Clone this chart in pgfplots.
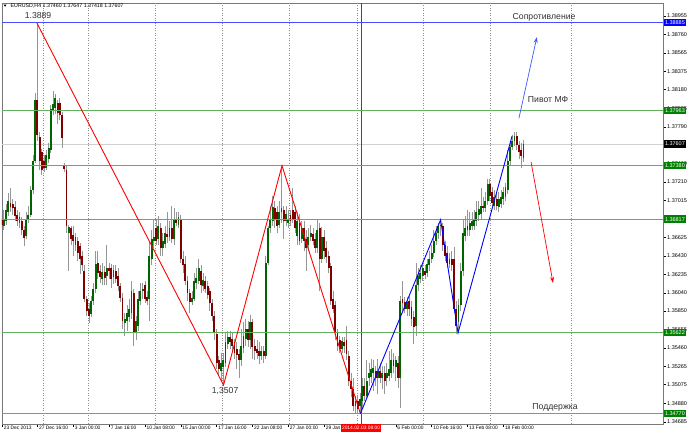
\documentclass[border=0pt]{standalone}
\usepackage{fontspec}
\setmainfont{Liberation Sans}
\usepackage{pgfplots}
\pgfplotsset{compat=1.18}
\usepackage{pgfplotstable}
\usetikzlibrary{arrows.meta}

\definecolor{upbody}{RGB}{0,100,0}
\definecolor{dnbody}{RGB}{128,0,0}
\definecolor{wick}{RGB}{150,150,150}
\definecolor{lvl}{RGB}{96,176,96}
\definecolor{lvlbox}{RGB}{0,128,0}
\definecolor{framec}{RGB}{120,120,120}
\definecolor{gridc}{RGB}{140,140,140}
\definecolor{txt}{RGB}{50,50,50}
\definecolor{lineblue}{RGB}{0,0,255}
\definecolor{arrowblue}{RGB}{60,90,255}

% EURUSD H4 candles: bar index, open, high, low, close
\pgfplotstableread{
i o h l c
1 1.3675 1.3691 1.3670 1.3682
2 1.3680 1.3698 1.3676 1.3691
3 1.3689 1.3709 1.3685 1.3701
8 1.3678 1.3689 1.3672 1.3684
11 1.3664 1.3689 1.3661 1.3682
12 1.3682 1.3696 1.3678 1.3686
13 1.3686 1.3717 1.3684 1.3712
14 1.3712 1.3749 1.3708 1.3743
15 1.3743 1.3814 1.3741 1.3807
20 1.3736 1.3754 1.3733 1.3749
21 1.3745 1.3762 1.3741 1.3757
22 1.3754 1.3802 1.3751 1.3798
23 1.3796 1.3817 1.3791 1.3803
24 1.3799 1.3813 1.3792 1.3809
30 1.3667 1.3676 1.3627 1.3673
33 1.3654 1.3667 1.3648 1.3663
40 1.3582 1.3601 1.3579 1.3596
41 1.3596 1.3615 1.3591 1.3608
42 1.3608 1.3648 1.3604 1.3634
45 1.3619 1.3636 1.3612 1.3626
47 1.3622 1.3654 1.3612 1.3630
50 1.3621 1.3633 1.3613 1.3628
55 1.3572 1.3583 1.3559 1.3577
56 1.3575 1.3591 1.3564 1.3583
57 1.3579 1.3598 1.3573 1.3587
58 1.3583 1.3617 1.3577 1.3606
60 1.3562 1.3580 1.3554 1.3575
61 1.3569 1.3606 1.3564 1.3598
62 1.3596 1.3614 1.3591 1.3606
63 1.3606 1.3615 1.3598 1.3608
66 1.3598 1.3659 1.3575 1.3643
67 1.3640 1.3670 1.3633 1.3661
68 1.3659 1.3682 1.3651 1.3663
70 1.3661 1.3685 1.3654 1.3675
72 1.3651 1.3667 1.3643 1.3659
73 1.3656 1.3674 1.3651 1.3667
75 1.3663 1.3680 1.3659 1.3672
77 1.3661 1.3693 1.3654 1.3682
79 1.3676 1.3689 1.3672 1.3684
85 1.3594 1.3606 1.3591 1.3599
86 1.3598 1.3625 1.3596 1.3617
87 1.3615 1.3630 1.3608 1.3620
88 1.3617 1.3640 1.3613 1.3630
90 1.3611 1.3625 1.3606 1.3618
98 1.3522 1.3541 1.3511 1.3530
99 1.3526 1.3541 1.3507 1.3533
100 1.3530 1.3562 1.3526 1.3552
101 1.3550 1.3564 1.3545 1.3558
107 1.3533 1.3566 1.3527 1.3548
108 1.3546 1.3573 1.3541 1.3559
109 1.3556 1.3577 1.3548 1.3566
111 1.3554 1.3581 1.3545 1.3573
116 1.3538 1.3548 1.3533 1.3543
118 1.3538 1.3643 1.3535 1.3636
119 1.3636 1.3675 1.3633 1.3672
120 1.3672 1.3696 1.3667 1.3682
121 1.3680 1.3706 1.3675 1.3694
124 1.3676 1.3701 1.3672 1.3689
125 1.3689 1.3736 1.3678 1.3693
127 1.3680 1.3696 1.3675 1.3687
128 1.3678 1.3691 1.3672 1.3682
132 1.3664 1.3689 1.3654 1.3680
134 1.3661 1.3680 1.3657 1.3672
137 1.3654 1.3672 1.3648 1.3663
138 1.3663 1.3676 1.3659 1.3667
141 1.3651 1.3682 1.3646 1.3670
143 1.3640 1.3673 1.3636 1.3663
152 1.3545 1.3558 1.3541 1.3553
158 1.3485 1.3496 1.3478 1.3490
160 1.3485 1.3499 1.3477 1.3492
161 1.3490 1.3514 1.3482 1.3506
163 1.3496 1.3533 1.3492 1.3511
164 1.3514 1.3530 1.3506 1.3520
165 1.3516 1.3535 1.3509 1.3524
166 1.3520 1.3533 1.3501 1.3525
168 1.3514 1.3535 1.3498 1.3522
170 1.3514 1.3527 1.3503 1.3520
172 1.3514 1.3530 1.3506 1.3520
173 1.3517 1.3543 1.3511 1.3524
174 1.3520 1.3545 1.3514 1.3533
176 1.3526 1.3538 1.3511 1.3533
178 1.3515 1.3601 1.3483 1.3596
181 1.3587 1.3600 1.3580 1.3594
185 1.3569 1.3636 1.3559 1.3612
186 1.3612 1.3630 1.3606 1.3622
187 1.3619 1.3633 1.3614 1.3625
188 1.3622 1.3636 1.3617 1.3630
190 1.3625 1.3640 1.3621 1.3634
191 1.3633 1.3648 1.3627 1.3640
192 1.3640 1.3654 1.3636 1.3646
193 1.3646 1.3670 1.3642 1.3659
194 1.3659 1.3675 1.3655 1.3667
195 1.3667 1.3678 1.3661 1.3675
196 1.3674 1.3681 1.3664 1.3676
200 1.3635 1.3646 1.3630 1.3640
204 1.3573 1.3598 1.3562 1.3591
205 1.3591 1.3636 1.3585 1.3627
206 1.3627 1.3682 1.3622 1.3667
207 1.3664 1.3685 1.3659 1.3672
209 1.3670 1.3689 1.3664 1.3678
210 1.3675 1.3689 1.3670 1.3680
211 1.3674 1.3691 1.3670 1.3682
212 1.3680 1.3701 1.3675 1.3689
213 1.3686 1.3701 1.3680 1.3692
214 1.3687 1.3714 1.3682 1.3696
216 1.3693 1.3710 1.3689 1.3701
217 1.3701 1.3724 1.3697 1.3719
220 1.3696 1.3712 1.3691 1.3705
222 1.3695 1.3710 1.3689 1.3703
223 1.3698 1.3712 1.3693 1.3705
224 1.3703 1.3716 1.3697 1.3710
225 1.3705 1.3720 1.3701 1.3716
226 1.3712 1.3754 1.3708 1.3743
227 1.3743 1.3764 1.3738 1.3758
228 1.3758 1.3770 1.3754 1.3764
229 1.3764 1.3773 1.3759 1.3769
233 1.37460 1.37647 1.37418 1.37607
}\upbars

\pgfplotstableread{
i o h l c
0 1.3682 1.3686 1.3672 1.3676
4 1.3699 1.3715 1.3689 1.3694
5 1.3698 1.3703 1.3686 1.3693
6 1.3695 1.3701 1.3680 1.3685
7 1.3686 1.3691 1.3674 1.3680
9 1.3680 1.3684 1.3665 1.3670
10 1.3670 1.3674 1.3653 1.3662
16 1.3807 1.3888 1.3764 1.3770
17 1.3768 1.3773 1.3733 1.3743
18 1.3752 1.3756 1.3728 1.3733
19 1.3743 1.3749 1.3731 1.3736
25 1.3804 1.3807 1.3782 1.3793
26 1.3804 1.3809 1.3786 1.3791
27 1.3791 1.3794 1.3757 1.3767
28 1.3738 1.3741 1.3731 1.3735
29 1.3733 1.3738 1.3667 1.3674
31 1.3672 1.3675 1.3654 1.3661
32 1.3665 1.3675 1.3643 1.3659
34 1.3659 1.3663 1.3638 1.3646
35 1.3653 1.3657 1.3624 1.3640
36 1.3643 1.3648 1.3627 1.3633
37 1.3627 1.3633 1.3594 1.3598
38 1.3598 1.3601 1.3580 1.3585
39 1.3587 1.3593 1.3572 1.3580
43 1.3636 1.3648 1.3619 1.3625
44 1.3627 1.3633 1.3614 1.3621
46 1.3626 1.3632 1.3612 1.3620
48 1.3630 1.3636 1.3619 1.3627
49 1.3630 1.3634 1.3609 1.3619
51 1.3627 1.3633 1.3615 1.3619
52 1.3622 1.3630 1.3606 1.3611
53 1.3611 1.3615 1.3594 1.3599
54 1.3599 1.3604 1.3566 1.3575
59 1.3604 1.3608 1.3548 1.3562
64 1.3612 1.3617 1.3593 1.3598
65 1.3600 1.3606 1.3591 1.3596
69 1.3672 1.3682 1.3654 1.3659
71 1.3672 1.3678 1.3643 1.3651
74 1.3666 1.3689 1.3657 1.3663
76 1.3672 1.3696 1.3657 1.3661
78 1.3682 1.3689 1.3674 1.3678
80 1.3682 1.3686 1.3636 1.3640
81 1.3640 1.3648 1.3625 1.3633
82 1.3635 1.3643 1.3612 1.3617
83 1.3617 1.3622 1.3596 1.3604
84 1.3604 1.3608 1.3583 1.3594
89 1.3627 1.3633 1.3604 1.3612
91 1.3617 1.3622 1.3604 1.3608
92 1.3611 1.3617 1.3598 1.3602
93 1.3606 1.3609 1.3585 1.3593
94 1.3593 1.3598 1.3575 1.3580
95 1.3580 1.3585 1.3554 1.3562
96 1.3561 1.3566 1.3524 1.3530
97 1.3533 1.3538 1.3517 1.3524
102 1.3558 1.3564 1.3545 1.3552
103 1.3556 1.3562 1.3543 1.3548
104 1.3552 1.3556 1.3535 1.3541
105 1.3545 1.3552 1.3524 1.3539
106 1.3540 1.3545 1.3515 1.3533
110 1.3566 1.3575 1.3547 1.3554
112 1.3573 1.3577 1.3535 1.3547
113 1.3548 1.3556 1.3533 1.3543
114 1.3545 1.3554 1.3535 1.3541
115 1.3543 1.3552 1.3529 1.3538
117 1.3543 1.3548 1.3530 1.3538
122 1.3693 1.3701 1.3672 1.3682
123 1.3689 1.3696 1.3667 1.3675
126 1.3691 1.3696 1.3661 1.3680
129 1.3686 1.3691 1.3675 1.3680
130 1.3691 1.3714 1.3678 1.3682
131 1.3689 1.3696 1.3667 1.3672
133 1.3678 1.3687 1.3654 1.3659
135 1.3672 1.3680 1.3648 1.3659
136 1.3661 1.3670 1.3627 1.3651
139 1.3666 1.3672 1.3654 1.3659
140 1.3661 1.3667 1.3646 1.3651
142 1.3672 1.3678 1.3606 1.3640
144 1.3663 1.3670 1.3640 1.3648
145 1.3651 1.3659 1.3636 1.3642
146 1.3643 1.3648 1.3625 1.3630
147 1.3632 1.3636 1.3591 1.3596
148 1.3598 1.3606 1.3583 1.3587
149 1.3591 1.3596 1.3554 1.3562
150 1.3562 1.3566 1.3543 1.3548
151 1.3554 1.3559 1.3541 1.3545
153 1.3552 1.3558 1.3541 1.3548
154 1.3554 1.3569 1.3533 1.3540
155 1.3538 1.3543 1.3506 1.3511
156 1.3511 1.3520 1.3494 1.3503
157 1.3503 1.3514 1.3480 1.3485
159 1.3490 1.3496 1.3478 1.3482
162 1.3506 1.3514 1.3490 1.3496
167 1.3522 1.3527 1.3506 1.3514
169 1.3522 1.3530 1.3509 1.3515
171 1.3520 1.3527 1.3498 1.3511
175 1.3533 1.3541 1.3520 1.3527
177 1.3530 1.3538 1.3504 1.3515
179 1.3598 1.3617 1.3585 1.3593
180 1.3594 1.3600 1.3583 1.3587
182 1.3596 1.3601 1.3580 1.3587
183 1.3589 1.3596 1.3569 1.3577
184 1.3579 1.3585 1.3550 1.3568
189 1.3627 1.3633 1.3619 1.3623
197 1.3674 1.3678 1.3648 1.3654
198 1.3654 1.3659 1.3638 1.3643
199 1.3646 1.3653 1.3630 1.3636
201 1.3640 1.3648 1.3627 1.3633
202 1.3640 1.3652 1.3583 1.3587
203 1.3587 1.3596 1.3561 1.3569
208 1.3675 1.3691 1.3664 1.3670
215 1.3696 1.3705 1.3689 1.3693
218 1.3719 1.3724 1.3701 1.3706
219 1.3710 1.3716 1.3693 1.3699
221 1.3703 1.3710 1.3691 1.3696
230 1.3769 1.3773 1.3754 1.3760
231 1.3760 1.3764 1.3745 1.3752
232 1.3754 1.3762 1.3736 1.3748
}\dnbars

\begin{document}
\begin{tikzpicture}
\useasboundingbox (0,0) rectangle (688bp,435bp);
\fill[white] (0,0) rectangle (688bp,435bp);
\begin{axis}[
    at={(2bp,11bp)}, anchor=south west,
    scale only axis, width=661bp, height=421bp,
    xmin=0.2, xmax=295.3,
    ymin=1.34661, ymax=1.39092,
    axis line style={framec, line width=0.6bp},
    tick align=outside, major tick length=3bp,
    tick style={black, line width=0.4bp},
    xtick pos=left, ytick pos=right,
    yticklabel pos=right,
    ytick={1.34685,1.34880,1.35075,1.35265,1.35460,1.35655,1.35850,1.36040,1.36235,1.36430,1.36625,1.37015,1.37210,1.37400,1.37790,1.37985,1.38180,1.38375,1.38565,1.38760,1.38955},
    yticklabels={1.34685,1.34880,1.35075,1.35265,1.35460,1.35655,1.35850,1.36040,1.36235,1.36430,1.36625,1.37015,1.37210,1.37400,1.37790,1.37985,1.38180,1.38375,1.38565,1.38760,1.38955},
    xtick={0.3,16,32,48,64,80,96,112,128,144,160,176,192,208,224},
    xticklabels={23 Dec 2013,27 Dec 16:00,3 Jan 00:00,7 Jan 16:00,10 Jan 08:00,15 Jan 00:00,17 Jan 16:00,22 Jan 08:00,27 Jan 00:00,29 Jan 16:00,{},6 Feb 00:00,10 Feb 16:00,13 Feb 08:00,18 Feb 00:00},
    yticklabel style={font=\fontsize{5.5}{6}\selectfont, anchor=west, inner sep=0pt, xshift=1bp},
    xticklabel style={font=\fontsize{4.9}{5.5}\selectfont, anchor=north west, inner sep=0pt, xshift=1.5bp, yshift=1bp},
    candle/.style={draw=none, mark=none, forget plot,
        error bars/.cd, y dir=plus, y explicit, error mark=none},
]

% weekly separators
\foreach \gx in {18.5,38.6,68.5,98.4,128.3,158.7,188.1,218.1,254.3}{
    \edef\tmp{\noexpand\draw[gridc, line width=0.6bp, dash pattern=on 1bp off 1.5bp] (axis cs:\gx,1.34661) -- (axis cs:\gx,1.39092);}\tmp
}
% current price line
\addplot[black!18, line width=0.8bp] coordinates {(0.2,1.37607) (295.3,1.37607)};
% time marker
\addplot[red, line width=0.8bp] coordinates {(160.5,1.34661) (160.5,1.39092)};

% wicks
\addplot[candle, error bar style={draw=wick, line width=0.8bp}]
    table[x=i, y=l, y error plus expr=\thisrow{h}-\thisrow{l}] {\upbars};
\addplot[candle, error bar style={draw=wick, line width=0.8bp}]
    table[x=i, y=l, y error plus expr=\thisrow{h}-\thisrow{l}] {\dnbars};
% bodies
\addplot[candle, error bar style={draw=upbody, line width=1.9bp}]
    table[x=i, y=o, y error plus expr=\thisrow{c}-\thisrow{o}] {\upbars};
\addplot[candle, error bar style={draw=dnbody, line width=1.9bp}]
    table[x=i, y=c, y error plus expr=\thisrow{o}-\thisrow{c}] {\dnbars};

% levels
\addplot[lineblue!70, line width=0.8bp] coordinates {(0.2,1.38885) (295.3,1.38885)};
\addplot[lvl, line width=0.8bp] coordinates {(0.2,1.37963) (295.3,1.37963)};
\addplot[lvl, line width=0.8bp] coordinates {(0.2,1.37380) (295.3,1.37380)};
\addplot[lvl, line width=0.8bp] coordinates {(0.2,1.36817) (295.3,1.36817)};
\addplot[lvl, line width=0.8bp] coordinates {(0.2,1.35622) (295.3,1.35622)};
\addplot[lvl, line width=0.8bp] coordinates {(0.2,1.34770) (295.3,1.34770)};

% zigzags
\addplot[red, line width=0.9bp] coordinates {(15.8,1.3888) (99.1,1.3507) (125.2,1.3738) (160.2,1.3477)};
\addplot[lineblue, line width=0.9bp] coordinates {(160.2,1.3477) (196.0,1.3681) (203.8,1.3562) (227.9,1.3769)};
\addplot[arrowblue, line width=0.7bp, -{Stealth[length=6bp,width=4bp]}] coordinates {(231.0,1.37881) (239.0,1.38734)};
\addplot[red, line width=0.7bp, -{Stealth[length=6bp,width=4bp]}] coordinates {(236.4,1.37418) (246.2,1.36145)};

% annotations
\node[txt, font=\fontsize{8.7}{9}\selectfont] at (axis cs:16.3,1.38955) {1.3889};
\node[txt, font=\fontsize{8.7}{9}\selectfont] at (axis cs:99.8,1.35008) {1,3507};
\node[txt, font=\fontsize{8.7}{9}\selectfont] at (axis cs:242.2,1.38944) {Сопротивление};
\node[txt, font=\fontsize{8.7}{9}\selectfont] at (axis cs:244.0,1.38071) {Пивот МФ};
\node[txt, font=\fontsize{8.7}{9}\selectfont] at (axis cs:247.1,1.34840) {Поддержка};

\coordinate (r1) at (axis cs:295.3,1.38885);
\coordinate (r2) at (axis cs:295.3,1.37963);
\coordinate (r3) at (axis cs:295.3,1.37607);
\coordinate (r4) at (axis cs:295.3,1.37380);
\coordinate (r5) at (axis cs:295.3,1.36817);
\coordinate (r6) at (axis cs:295.3,1.35622);
\coordinate (r7) at (axis cs:295.3,1.34770);
\coordinate (tb) at (axis cs:160.5,1.34661);
\end{axis}

\tikzset{rlab/.style={anchor=west, xshift=0.6bp, text=white, font=\fontsize{5.5}{6}\selectfont,
    inner xsep=1.2bp, inner ysep=0.8bp, minimum height=7.5bp}}
\node[rlab, fill=lineblue] at (r1) {1.38885};
\node[rlab, fill=lvlbox] at (r2) {1.37963};
\node[rlab, fill=black] at (r3) {1.37607};
\node[rlab, fill=lvlbox] at (r4) {1.37380};
\node[rlab, fill=lvlbox] at (r5) {1.36817};
\node[rlab, fill=lvlbox] at (r6) {1.35622};
\node[rlab, fill=lvlbox] at (r7) {1.34770};
\node[anchor=north, fill=red, text=white, font=\fontsize{4.9}{5.5}\selectfont,
    inner xsep=1bp, inner ysep=1bp, minimum height=7.5bp, yshift=-0.3bp] at (tb) {2014.02.03 08:00};

% chart header
\fill[black] (3.6bp,430.4bp) -- (6.6bp,430.4bp) -- (5.1bp,428.2bp) -- cycle;
\node[anchor=west, inner sep=0pt, font=\fontsize{5.3}{6}\selectfont] at (10.5bp,429.2bp)
    {EURUSD,H4  1.37460 1.37647 1.37418 1.37607};
\end{tikzpicture}
\end{document}
